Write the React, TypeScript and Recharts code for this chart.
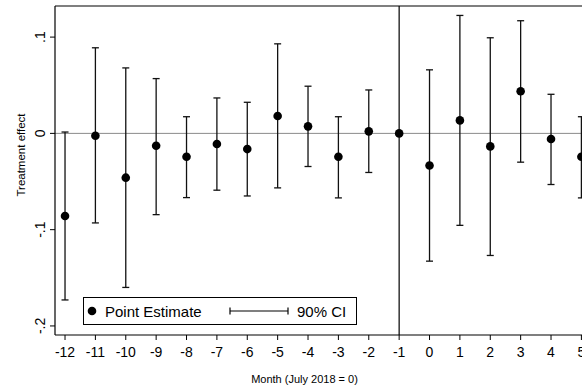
import React from 'react';
import { ScatterChart, Scatter, XAxis, YAxis, ErrorBar, ReferenceLine, Legend, Label } from 'recharts';

const months = [-12, -11, -10, -9, -8, -7, -6, -5, -4, -3, -2, -1, 0, 1, 2, 3, 4, 5];
const estimates = [-0.0858, -0.0025, -0.046, -0.0129, -0.0243, -0.0111, -0.0163, 0.018, 0.0073, -0.0243, 0.0021, 0, -0.0333, 0.0135, -0.0135, 0.0437, -0.0059, -0.0243];
const upperCI = [0.0014, 0.0889, 0.068, 0.0569, 0.0173, 0.0368, 0.0323, 0.093, 0.049, 0.0173, 0.0451, 0, 0.066, 0.1225, 0.0993, 0.117, 0.0406, 0.0173];
const lowerCI = [-0.173, -0.093, -0.16, -0.0844, -0.0667, -0.059, -0.065, -0.0566, -0.0344, -0.067, -0.0406, 0, -0.1327, -0.0955, -0.1268, -0.0299, -0.0531, -0.067];
const xTicks = [-12, -11, -10, -9, -8, -7, -6, -5, -4, -3, -2, -1, 0, 1, 2, 3, 4, 5];
const yTicks = [-0.2, -0.1, 0, 0.1];
const yTickLabels = ['-.2', '-.1', '0', '.1'];
const xDomain: [number, number] = [-12.33, 5.02];
const yDomain: [number, number] = [-0.2094, 0.1323];

const FONT = 'Liberation Sans, Arial, Helvetica, sans-serif';

const data = months.map((m, i) => ({
  month: m,
  est: estimates[i],
  err: [estimates[i] - lowerCI[i], upperCI[i] - estimates[i]],
}));

const XTick = (props: any) => {
  const { x, y, payload } = props;
  return (
    <text x={x} y={y + 16.5} textAnchor="middle" fontFamily={FONT} fontSize={14} fill="#000">
      {String(payload.value)}
    </text>
  );
};

const YTick = (props: any) => {
  const { x, y, payload } = props;
  const idx = yTicks.indexOf(payload.value);
  const label = idx >= 0 ? yTickLabels[idx] : String(payload.value);
  const bx = x - 5;
  return (
    <text x={bx} y={y} transform={`rotate(-90, ${bx}, ${y})`} textAnchor="middle" fontFamily={FONT} fontSize={14} fill="#000">
      {label}
    </text>
  );
};

const Dot = (props: any) => <circle cx={props.cx} cy={props.cy} r={4.3} fill="#000" />;

const LegendBox = () => (
  <svg width={275} height={29} style={{ display: 'block' }}>
    <rect x={0.5} y={0.5} width={273} height={27} fill="#fff" stroke="#000" strokeWidth={1} />
    <circle cx={9} cy={14} r={4.3} fill="#000" />
    <text x={22} y={19.5} fontFamily={FONT} fontSize={15} fill="#000">Point Estimate</text>
    <line x1={147} y1={14} x2={205} y2={14} stroke="#000" strokeWidth={1.2} />
    <line x1={147} y1={10.5} x2={147} y2={17.5} stroke="#000" strokeWidth={1.2} />
    <line x1={205} y1={10.5} x2={205} y2={17.5} stroke="#000" strokeWidth={1.2} />
    <text x={214} y={19.5} fontFamily={FONT} fontSize={15} fill="#000">90% CI</text>
  </svg>
);

export default function App() {
  return (
    <div style={{ position: 'absolute', left: 0, top: 0, width: 582, height: 392, background: '#fff' }}>
      <ScatterChart width={582} height={392} margin={{ top: 6, right: 0, bottom: 27, left: 0 }}>
        <XAxis
          dataKey="month"
          type="number"
          domain={xDomain}
          ticks={xTicks}
          interval={0}
          allowDataOverflow
          height={30}
          tickSize={5}
          tickMargin={0}
          tick={<XTick />}
          axisLine={{ stroke: '#000', strokeWidth: 1.2 }}
          tickLine={{ stroke: '#000', strokeWidth: 1 }}
        >
          <Label
            content={() => (
              <text x={304.5} y={383} textAnchor="middle" fontFamily={FONT} fontSize={11} fill="#000">
                Month (July 2018 = 0)
              </text>
            )}
          />
        </XAxis>
        <YAxis
          dataKey="est"
          type="number"
          domain={yDomain}
          ticks={yTicks}
          interval={0}
          allowDataOverflow
          width={55}
          tickSize={5}
          tickMargin={0}
          tick={<YTick />}
          axisLine={{ stroke: '#000', strokeWidth: 1.2 }}
          tickLine={{ stroke: '#000', strokeWidth: 1 }}
        >
          <Label
            content={() => (
              <text x={24.5} y={155} transform="rotate(-90, 24.5, 155)" textAnchor="middle" fontFamily={FONT} fontSize={11.5} fill="#000">
                Treatment effect
              </text>
            )}
          />
        </YAxis>
        <ReferenceLine y={yDomain[1]} stroke="#000" strokeWidth={1.2} />
        <ReferenceLine y={0} stroke="#8a8a8a" strokeWidth={1} />
        <ReferenceLine x={-1} stroke="#000" strokeWidth={1.2} />
        <Legend
          layout="vertical"
          align="center"
          verticalAlign="middle"
          content={() => <LegendBox />}
          wrapperStyle={{ position: 'absolute', left: 83, top: 297, right: 'auto', bottom: 'auto', width: 275, height: 29, margin: 0 }}
        />
        <Scatter data={data} dataKey="est" shape={<Dot />} isAnimationActive={false}>
          <ErrorBar dataKey={(d: any) => d.err} direction="y" width={3.5} stroke="#111" strokeWidth={1.3} isAnimationActive={false} />
        </Scatter>
      </ScatterChart>
    </div>
  );
}
